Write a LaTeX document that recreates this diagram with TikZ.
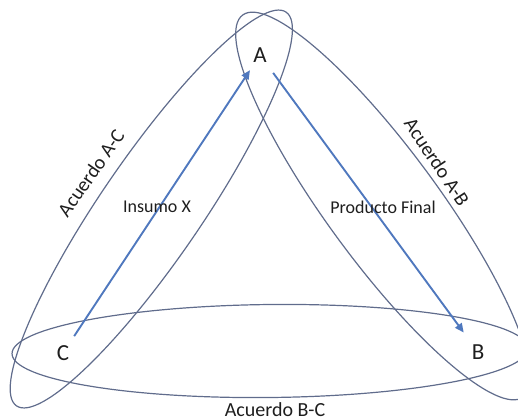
\documentclass[tikz,border=0pt]{standalone}
\usepackage{fontspec}
\setmainfont{Carlito}
\usetikzlibrary{arrows.meta}
\definecolor{ringcol}{RGB}{96,108,140}
\definecolor{arrcol}{RGB}{79,120,190}
\definecolor{txtcol}{RGB}{30,30,30}
\tikzset{
  ring/.style={draw=ringcol, line width=1.2pt},
  party/.style={circle, minimum size=40pt, inner sep=0pt, text=txtcol, font=\fontsize{23}{26}\selectfont},
  flow/.style={draw=arrcol, line width=1.9pt, -{Triangle[length=9pt,width=8pt]}},
  lbl/.style={text=txtcol, inner sep=0pt, font=\fontsize{18}{20}\selectfont},
  albl/.style={text=txtcol, inner sep=0pt, font=\fontsize{20}{22}\selectfont}
}
\begin{document}
\begin{tikzpicture}[x=1pt,y=-1pt]
\useasboundingbox (0,0) rectangle (518,418);
\clip (0,0) rectangle (518,418);
% agreement rings
\draw[ring, rotate around={55.6:(151.3,209)}] (151.3,209) ellipse (238.6 and 50.5);
\draw[ring, rotate around={-53.7:(383,206)}] (383,206) ellipse (237 and 55.6);
\draw[ring, rotate around={0.6:(270,351)}] (270,351) ellipse (258 and 46.5);
% parties
\node[party] (A) at (260,55) {A};
\node[party] (B) at (478,352) {B};
\node[party] (C) at (63,353) {C};
% flows
\draw[flow, shorten >=-2pt] (C) -- (A);
\draw[flow, shorten >=4pt, shorten <=2pt] (A) -- (B);
% labels
\node[lbl] (ix) at (157,207) {Insumo X};
\node[lbl] (pf) at (383,207) {Producto Final};
\node[albl, rotate=55] (lac) at (91,173) {Acuerdo A-C};
\node[albl, rotate=-56.5] (lab) at (437,162) {Acuerdo A-B};
\node[albl, anchor=base] (lbc) at (275,416) {Acuerdo B-C};
\end{tikzpicture}
\end{document}
